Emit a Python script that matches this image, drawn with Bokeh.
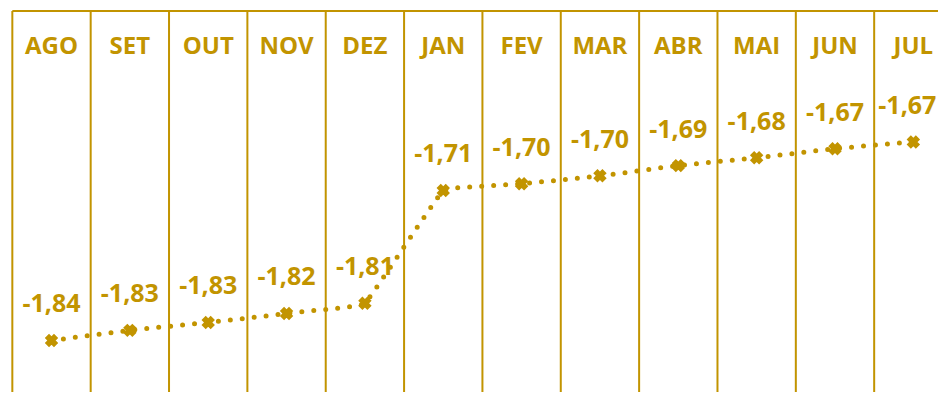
from bokeh.plotting import figure
from bokeh.models import Range1d, ColumnDataSource
from bokeh.core.properties import value
from bokeh.embed import file_html
from bokeh.resources import INLINE
import math

months = ["AGO", "SET", "OUT", "NOV", "DEZ", "JAN", "FEV", "MAR", "ABR", "MAI", "JUN", "JUL"]
values = [-1.842, -1.833, -1.826, -1.818, -1.809, -1.709, -1.703, -1.696, -1.687, -1.680, -1.672, -1.666]

GOLD = "#C29400"
W, H = 938, 392
x_lo, x_hi = -0.651, 11.321
y_top, y_bot = -1.5406, -1.8881
px = (y_top - y_bot) / H
sx = W / (x_hi - x_lo)
sy = H / (y_top - y_bot)

p = figure(width=W, height=H, output_backend="svg", toolbar_location=None,
           x_range=Range1d(x_lo, x_hi), y_range=Range1d(y_bot, y_top),
           min_border=0, outline_line_color=None)
p.axis.visible = False
p.grid.visible = False

# table frame
border_y = y_top - 10.5 * px
n = len(months)
xs_b = [k - 0.5 for k in range(n + 1)]
p.segment(x0=xs_b, y0=[border_y] * len(xs_b), x1=xs_b, y1=[y_bot - 5 * px] * len(xs_b),
          line_color=GOLD, line_width=2)
p.segment(x0=[-0.5], y0=[border_y], x1=[x_hi + 1], y1=[border_y], line_color=GOLD, line_width=2)

# month headers
xi = list(range(n))
p.text(x=xi, y=[y_top - 44 * px] * n, text=months, text_align="center", text_baseline="middle",
       text_font=value("Open Sans"), text_font_style="bold", text_font_size="24px", text_color=GOLD)

# smoothed line (light Bezier smoothing, tension reduced at uneven segment lengths)
pts = list(zip(xi, values))

def dist(a, b):
    return math.hypot((a[0] - b[0]) * sx, (a[1] - b[1]) * sy)

def tangent(i):
    if i == 0 or i == n - 1:
        return (0.0, 0.0)
    a, b, c = pts[i - 1], pts[i], pts[i + 1]
    d1, d2 = dist(a, b), dist(b, c)
    s = (min(d1, d2) / max(d1, d2)) ** 3
    f = s / 6
    return ((c[0] - a[0]) * f, (c[1] - a[1]) * f)

cx, cy = [], []
steps = 30
for i in range(n - 1):
    p1, p2 = pts[i], pts[i + 1]
    t1, t2 = tangent(i), tangent(i + 1)
    c1 = (p1[0] + t1[0], p1[1] + t1[1])
    c2 = (p2[0] - t2[0], p2[1] - t2[1])
    for s in range(steps + (1 if i == n - 2 else 0)):
        t = s / steps
        a = (1 - t) ** 3; b = 3 * (1 - t) ** 2 * t; c = 3 * (1 - t) * t ** 2; d = t ** 3
        cx.append(a * p1[0] + b * c1[0] + c * c2[0] + d * p2[0])
        cy.append(a * p1[1] + b * c1[1] + c * c2[1] + d * p2[1])
p.line(cx, cy, line_color=GOLD, line_width=5, line_dash="0 12", line_cap="round")

# markers
p.scatter(xi, values, marker="x", size=13, line_width=6, line_color=GOLD)

# data labels
labels = [f"{v:.2f}".replace(".", ",") for v in values]
xoff = [0] * n
xoff[-1] = -6
src = ColumnDataSource(dict(x=xi, y=values, text=labels, xoff=xoff))
p.text(x="x", y="y", text="text", x_offset="xoff", y_offset=-37, source=src,
       text_align="center", text_baseline="middle",
       text_font=value("Open Sans"), text_font_style="bold", text_font_size="25px", text_color=GOLD)

open("out.html", "w").write(file_html(p, INLINE))
